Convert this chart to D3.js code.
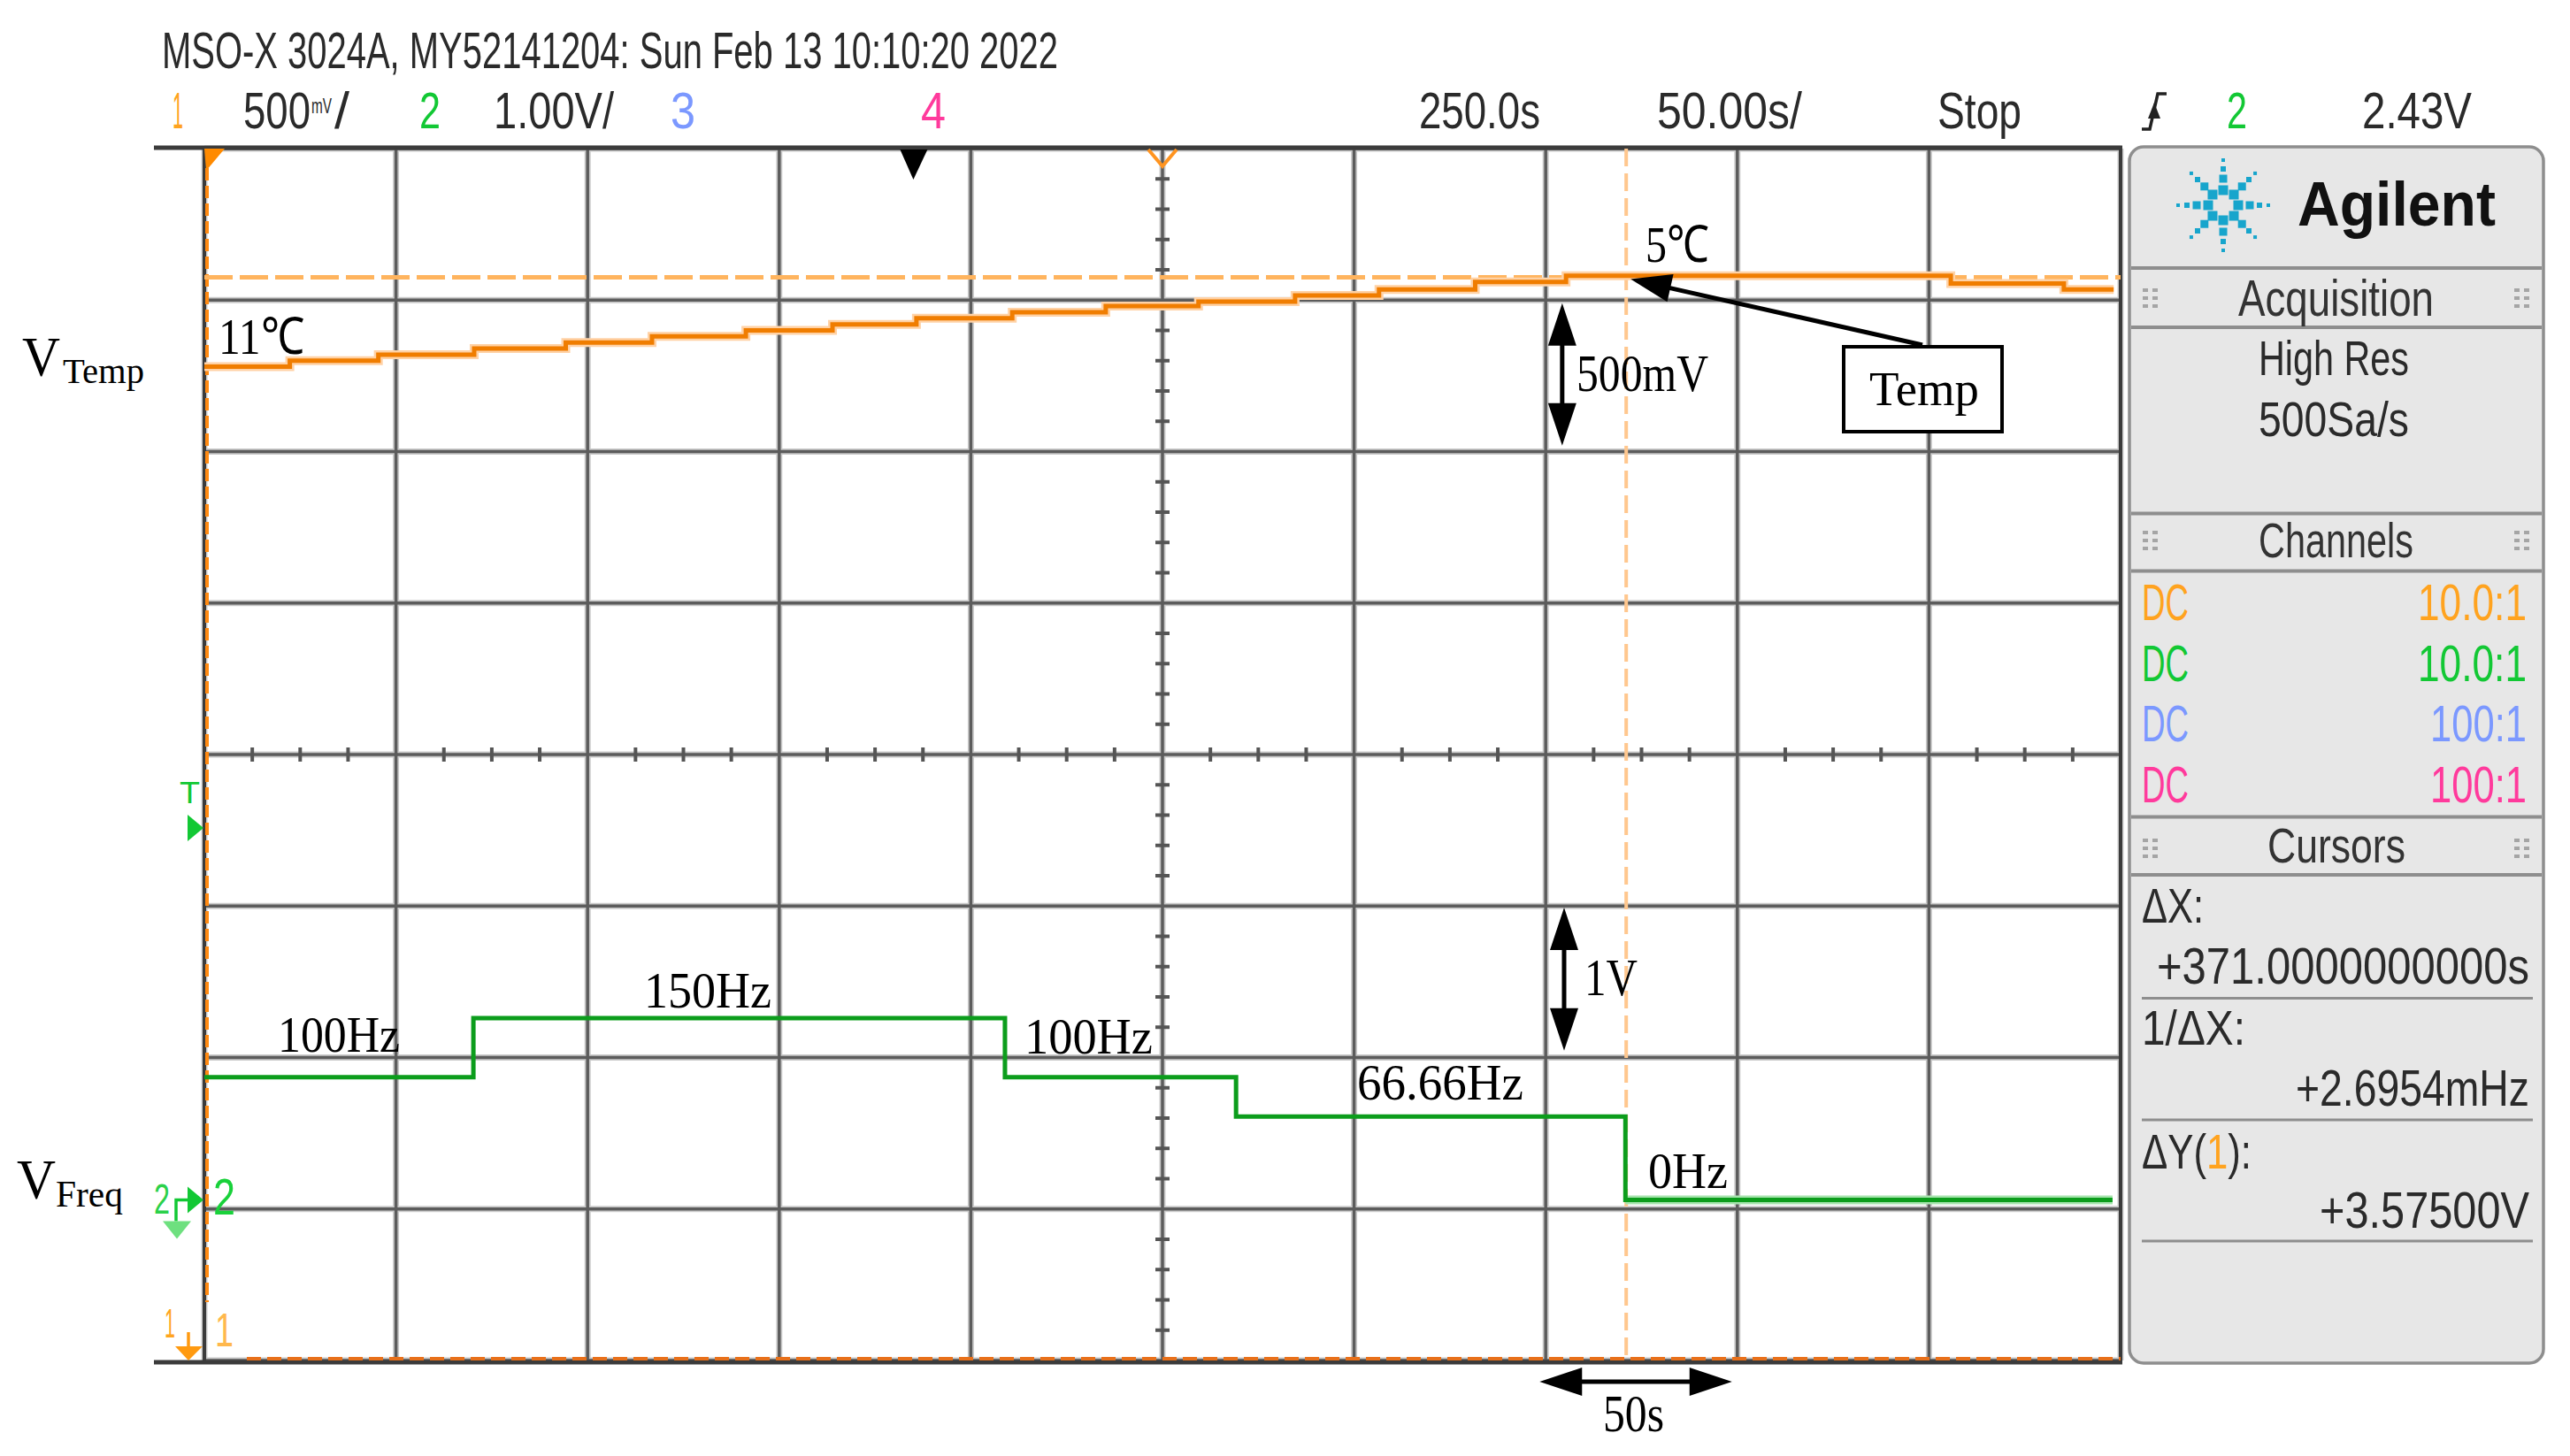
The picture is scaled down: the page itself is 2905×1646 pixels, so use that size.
<!DOCTYPE html>
<html>
<head>
<meta charset="utf-8">
<script src="https://cdn.jsdelivr.net/npm/d3@7"></script>
<style>
body{margin:0;background:#fff;}
</style>
</head>
<body>
<script>
// values read off the screen capture
// channel 1 - temperature sensor voltage (staircase), time in s, volts
var tempTime = [0, 22.3, 45.4, 70.4, 94.3, 116.8, 141.3, 163.9, 185.8, 210.8, 235.2, 259.4, 284.6, 306.5, 331.6, 355.3, 455.7, 485.2, 498.2];
var tempVolt = [3.28, 3.30, 3.32, 3.34, 3.36, 3.38, 3.40, 3.42, 3.44, 3.46, 3.48, 3.495, 3.515, 3.535, 3.56, 3.58, 3.555, 3.535, 3.535];
// channel 2 - frequency/voltage output
var freqTime = [0, 70.2, 208.9, 269.2, 370.8, 497.9];
var freqVolt = [0.81, 1.20, 0.81, 0.55, 0, 0];
var freqNames = ["100Hz", "150Hz", "100Hz", "66.66Hz", "0Hz"];
var tempNames = ["11℃", "5℃"];
// cursors: X in s, Y in volts of channel 1
var cursorX = [0, 371];
var cursorY = [0, 3.575];

var headerLine = "MSO-X 3024A, MY52141204: Sun Feb 13 10:10:20 2022";
var channelTexts = ["1", "500", "2", "1.00V/", "3", "4"];
var timeTexts = ["250.0s", "50.00s/", "Stop", "2", "2.43V"];
var probeRows = [["DC", "10.0:1"], ["DC", "10.0:1"], ["DC", "100:1"], ["DC", "100:1"]];
var chColours = ["#ffa31f", "#12c834", "#7b98ff", "#ff3a9c"];

var W = 2905, H = 1646;
var SANS = "Liberation Sans, Arial, sans-serif";
var SERIF = "Liberation Serif, Times New Roman, serif";

var svg = d3.select("body").append("svg")
    .attr("width", W).attr("height", H)
    .attr("viewBox", "0,0," + W + "," + H);
svg.append("rect").attr("width", W).attr("height", H).attr("fill", "#fff");

// screen geometry: 10 x 8 divisions
var scrL = 231, scrR = 2397, scrT = 168, scrB = 1538;
var x = d3.scaleLinear().domain([0, 500]).range([scrL, scrR]);   // 50 s/div
var div = d3.scaleLinear().domain([-4, 4]).range([scrB, scrT]);
var yTemp = d3.scaleLinear().domain([0, 4]).range([scrB, scrT]);        // 500 mV/div, ground at bottom
var ch2Pos = -2.94;
var yFreq = d3.scaleLinear().domain([-4 - ch2Pos, 4 - ch2Pos]).range([scrB, scrT]); // 1 V/div

function txt(g, s, x0, x1, base, size, fill, fam, weight){
    return g.append("text")
        .attr("x", x0).attr("y", base)
        .attr("font-size", size)
        .attr("font-family", fam || SANS)
        .attr("font-weight", weight || "normal")
        .attr("fill", fill || "#2a2a2a")
        .attr("textLength", x1 - x0)
        .attr("lengthAdjust", "spacingAndGlyphs")
        .text(s);
}

// HEADER
var head = svg.append("g");
txt(head, headerLine, 183, 1196, 77, 58);
txt(head, channelTexts[0], 195, 207, 145, 58, chColours[0]);
txt(head, channelTexts[1], 275, 351, 145, 58);
txt(head, "mV", 352, 375, 128, 24);
txt(head, "/", 378, 395, 145, 58);
txt(head, channelTexts[2], 474, 498, 145, 58, chColours[1]);
txt(head, channelTexts[3], 558, 694, 145, 58);
txt(head, channelTexts[4], 758, 786, 145, 58, chColours[2]);
txt(head, channelTexts[5], 1041, 1069, 145, 58, chColours[3]);
txt(head, timeTexts[0], 1604, 1741, 145, 58);
txt(head, timeTexts[1], 1873, 2037, 145, 58);
txt(head, timeTexts[2], 2190, 2285, 145, 58);
txt(head, timeTexts[3], 2517, 2540, 145, 58, chColours[1]);
txt(head, timeTexts[4], 2670, 2794, 145, 58);
// rising edge trigger glyph
head.append("path")
    .attr("d", "M2421,146 L2430,146 L2439,106 L2449,106")
    .attr("fill", "none").attr("stroke", "#222").attr("stroke-width", 3.5);
head.append("path").attr("d", "M2428,134 L2442,134 L2435,116 Z").attr("fill", "#222");

// GRID
var grid = svg.append("g");
var vLines = d3.range(0, 501, 50);
var hLines = d3.range(-4, 5, 1);
grid.selectAll("line.v").data(vLines).enter().append("line")
    .attr("x1", d => x(d)).attr("x2", d => x(d))
    .attr("y1", scrT).attr("y2", scrB)
    .attr("stroke", "#c9c9c9").attr("stroke-width", 7);
grid.selectAll("line.h").data(hLines).enter().append("line")
    .attr("x1", scrL).attr("x2", scrR)
    .attr("y1", d => div(d)).attr("y2", d => div(d))
    .attr("stroke", "#c9c9c9").attr("stroke-width", 7);
grid.selectAll("line.v2").data(vLines).enter().append("line")
    .attr("x1", d => x(d)).attr("x2", d => x(d))
    .attr("y1", scrT).attr("y2", scrB)
    .attr("stroke", "#5c5c5c").attr("stroke-width", 3.5);
grid.selectAll("line.h2").data(hLines).enter().append("line")
    .attr("x1", scrL).attr("x2", scrR)
    .attr("y1", d => div(d)).attr("y2", d => div(d))
    .attr("stroke", "#5c5c5c").attr("stroke-width", 3.5);

// minor ticks on the centre axes
var xMinor = d3.range(0, 500.01, 12.5).filter(d => d % 50 != 0);
var yMinor = d3.range(-4, 4.001, 0.2).filter(d => Math.abs(d - Math.round(d)) > 0.01);
grid.selectAll("line.tx").data(xMinor).enter().append("line")
    .attr("x1", d => x(d)).attr("x2", d => x(d))
    .attr("y1", div(0) - 8).attr("y2", div(0) + 8)
    .attr("stroke", "#555").attr("stroke-width", 4);
grid.selectAll("line.ty").data(yMinor).enter().append("line")
    .attr("x1", x(250) - 8).attr("x2", x(250) + 8)
    .attr("y1", d => div(d)).attr("y2", d => div(d))
    .attr("stroke", "#555").attr("stroke-width", 4);

// frame
grid.append("line").attr("x1", 174).attr("x2", scrR + 2).attr("y1", scrT - 1).attr("y2", scrT - 1)
    .attr("stroke", "#3b3b3b").attr("stroke-width", 5);
grid.append("line").attr("x1", 174).attr("x2", scrR + 2).attr("y1", scrB + 2).attr("y2", scrB + 2)
    .attr("stroke", "#3b3b3b").attr("stroke-width", 5);
grid.append("line").attr("x1", scrL).attr("x2", scrL).attr("y1", scrT).attr("y2", scrB)
    .attr("stroke", "#3b3b3b").attr("stroke-width", 4);
grid.append("line").attr("x1", scrR).attr("x2", scrR).attr("y1", scrT).attr("y2", scrB)
    .attr("stroke", "#3b3b3b").attr("stroke-width", 4);

// CURSORS
var cur = svg.append("g");
cur.append("line").attr("x1", x(cursorX[0]) + 3).attr("x2", x(cursorX[0]) + 3)
    .attr("y1", scrT + 22).attr("y2", scrB - 66)
    .attr("stroke", "#ff8a12").attr("stroke-width", 4).attr("stroke-dasharray", "14 6");
cur.append("line").attr("x1", x(cursorX[1])).attr("x2", x(cursorX[1]))
    .attr("y1", scrT).attr("y2", scrB)
    .attr("stroke", "#ffc78e").attr("stroke-width", 4).attr("stroke-dasharray", "20 8");
cur.append("line").attr("x1", scrL).attr("x2", scrR)
    .attr("y1", yTemp(cursorY[1])).attr("y2", yTemp(cursorY[1]))
    .attr("stroke", "#ffb45e").attr("stroke-width", 5).attr("stroke-dasharray", "32 8");
cur.append("line").attr("x1", 279).attr("x2", scrR)
    .attr("y1", yTemp(cursorY[0]) - 2).attr("y2", yTemp(cursorY[0]) - 2)
    .attr("stroke", "#e8701a").attr("stroke-width", 4).attr("stroke-dasharray", "16 7");

// TRACES
var tempPts = tempTime.map((t, i) => [t, tempVolt[i]]);
var freqPts = freqTime.map((t, i) => [t, freqVolt[i]]);
var tempLine = d3.line().x(d => x(d[0])).y(d => yTemp(d[1])).curve(d3.curveStepAfter);
var freqLine = d3.line().x(d => x(d[0])).y(d => yFreq(d[1])).curve(d3.curveStepAfter);

var tr = svg.append("g");
tr.append("path").attr("d", tempLine(tempPts)).attr("fill", "none")
    .attr("stroke", "#ffd2a6").attr("stroke-width", 10);
tr.append("path").attr("d", tempLine(tempPts)).attr("fill", "none")
    .attr("stroke", "#f07d00").attr("stroke-width", 5);
tr.append("path").attr("d", freqLine(freqPts.slice(-2))).attr("fill", "none")
    .attr("stroke", "#a6e3ad").attr("stroke-width", 10);
tr.append("path").attr("d", freqLine(freqPts)).attr("fill", "none")
    .attr("stroke", "#0c9d1c").attr("stroke-width", 5);

// screen markers
var mk = svg.append("g");
mk.append("path").attr("d", "M" + scrL + "," + scrT + " L" + (scrL + 23) + "," + scrT + " L" + (scrL + 2) + "," + (scrT + 25) + " Z")
    .attr("fill", "#ff8a00");
mk.append("path").attr("d", "M" + (x(185) - 15) + "," + (scrT + 1) + " L" + (x(185) + 16) + "," + (scrT + 1) + " L" + x(185) + "," + (scrT + 35) + " Z")
    .attr("fill", "#000");
mk.append("path").attr("d", "M" + (x(250) - 16) + "," + (scrT + 1) + " L" + x(250) + "," + (scrT + 20) + " L" + (x(250) + 16) + "," + (scrT + 1))
    .attr("fill", "none").attr("stroke", "#ff9420").attr("stroke-width", 4);
// trigger level
txt(mk, "T", 203, 226, 908, 35, chColours[1]);
mk.append("path").attr("d", "M212,921 L230,936 L212,951 Z").attr("fill", chColours[1]);
// channel 2 ground
var g2 = yFreq(0);
txt(mk, "2", 174, 192, g2 + 16, 48, "#2bd14a");
mk.append("path").attr("d", "M199," + (g2 + 24) + " L199," + g2 + " L214," + g2)
    .attr("fill", "none").attr("stroke", chColours[1]).attr("stroke-width", 3.5);
mk.append("path").attr("d", "M212," + (g2 - 15) + " L230," + g2 + " L212," + (g2 + 15) + " Z").attr("fill", chColours[1]);
mk.append("path").attr("d", "M184," + (g2 + 24) + " L216," + (g2 + 24) + " L200," + (g2 + 44) + " Z").attr("fill", "#6ee07f");
txt(mk, "2", 241, 266, g2 + 17, 57, "#19d13a");
// channel 1 ground (below screen)
txt(mk, "1", 186, 198, 1512, 46, "#ffa51f");
mk.append("line").attr("x1", 213).attr("x2", 213).attr("y1", 1506).attr("y2", 1524)
    .attr("stroke", "#ff9a10").attr("stroke-width", 3.5);
mk.append("path").attr("d", "M198,1522 L229,1522 L213,1538 Z").attr("fill", "#ff9a10");
txt(mk, "1", 243, 264, 1522, 53, "#ffb84d");

// ANNOTATIONS
var an = svg.append("g");
function arrowHead(g, tip, dir, len, wid){
    var ux = dir[0], uy = dir[1];
    var bx = tip[0] - ux * len, by = tip[1] - uy * len;
    var px = -uy * wid / 2, py = ux * wid / 2;
    g.append("path")
        .attr("d", "M" + tip[0] + "," + tip[1] + " L" + (bx + px) + "," + (by + py) + " L" + (bx - px) + "," + (by - py) + " Z")
        .attr("fill", "#000");
}
function dblArrow(g, a, b){
    var dx = b[0] - a[0], dy = b[1] - a[1], L = Math.hypot(dx, dy);
    var u = [dx / L, dy / L];
    g.append("line").attr("x1", a[0] + u[0] * 40).attr("y1", a[1] + u[1] * 40)
        .attr("x2", b[0] - u[0] * 40).attr("y2", b[1] - u[1] * 40)
        .attr("stroke", "#000").attr("stroke-width", 5);
    arrowHead(g, b, u, 48, 32);
    arrowHead(g, a, [-u[0], -u[1]], 48, 32);
}
dblArrow(an, [x(354.3), yTemp(3.49)], [x(354.3), yTemp(3.02)]);
txt(an, "500mV", 1782, 1931, 442, 60, "#000", SERIF);
dblArrow(an, [x(354.8), yFreq(1.93)], [x(354.8), yFreq(0.985)]);
txt(an, "1V", 1791, 1851, 1125, 60, "#000", SERIF);
dblArrow(an, [x(348.4), 1562], [x(398.6), 1562]);
txt(an, "50s", 1812, 1881, 1618, 60, "#000", SERIF);

// Temp callout
an.append("rect").attr("x", 2084).attr("y", 392).attr("width", 179).attr("height", 96)
    .attr("fill", "#fff").attr("stroke", "#000").attr("stroke-width", 4);
txt(an, "Temp", 2113, 2237, 458, 54, "#000", SERIF);
var tip = [x(cursorX[1]) + 5, yTemp(3.578) + 3], tail = [2173, 390];
var adx = tip[0] - tail[0], ady = tip[1] - tail[1], aL = Math.hypot(adx, ady);
an.append("line").attr("x1", tail[0]).attr("y1", tail[1])
    .attr("x2", tip[0] - adx / aL * 40).attr("y2", tip[1] - ady / aL * 40)
    .attr("stroke", "#000").attr("stroke-width", 5);
arrowHead(an, tip, [adx / aL, ady / aL], 46, 32);

// channel names
txt(an, "V", 25, 68, 425, 63, "#000", SERIF);
txt(an, "Temp", 71, 163, 433, 39, "#000", SERIF);
txt(an, "V", 19, 63, 1355, 63, "#000", SERIF);
txt(an, "Freq", 63, 139, 1364, 42, "#000", SERIF);

// temperature & frequency labels
txt(an, tempNames[0], 247, 344, yTemp(tempVolt[0]) - 15, 58, "#000", SERIF);
txt(an, tempNames[1], 1860, 1932, yTemp(tempVolt[15]) - 16, 58, "#000", SERIF);
var fl = [[314, 452, 1189], [728, 872, 1139], [1158, 1303, 1191], [1534, 1722, 1243], [1863, 1953, 1343]];
fl.forEach(function(p, i){ txt(an, freqNames[i], p[0], p[1], p[2], 56, "#000", SERIF); });

// SIDE PANEL
var pn = svg.append("g");
pn.append("rect").attr("x", 2407).attr("y", 166).attr("width", 468).attr("height", 1375)
    .attr("rx", 16).attr("fill", "#e7e7e7").attr("stroke", "#8e8e8e").attr("stroke-width", 3.5);
[303, 370, 580.5, 645.5, 923.5, 989].forEach(function(yy){
    pn.append("line").attr("x1", 2409).attr("x2", 2873).attr("y1", yy).attr("y2", yy)
        .attr("stroke", "#8e8e8e").attr("stroke-width", 4);
});
[1128.5, 1266, 1403].forEach(function(yy){
    pn.append("line").attr("x1", 2421).attr("x2", 2863).attr("y1", yy).attr("y2", yy)
        .attr("stroke", "#8e8e8e").attr("stroke-width", 3);
});
// grip dots
[337, 611, 959].forEach(function(cy){
    [2422, 2842].forEach(function(gx){
        [0, 11].forEach(function(ox){
            [-9, 0, 9].forEach(function(oy){
                pn.append("rect").attr("x", gx + ox).attr("y", cy + oy - 2)
                    .attr("width", 6).attr("height", 4).attr("fill", "#a5a5a5");
            });
        });
    });
});
// logo
var star = pn.append("g").attr("transform", "translate(2513,232)");
d3.range(8).forEach(function(k){
    var a = k * Math.PI / 4;
    [[17, 11], [30, 9], [41, 6], [51, 4]].forEach(function(r){
        star.append("rect")
            .attr("x", Math.cos(a) * r[0] - r[1] / 2).attr("y", Math.sin(a) * r[0] - r[1] / 2)
            .attr("width", r[1]).attr("height", r[1]).attr("fill", "#17a5cc");
    });
});
txt(pn, "Agilent", 2597, 2821, 255, 70, "#111", SANS, "bold");
txt(pn, "Acquisition", 2530, 2751, 357, 58, "#333");
txt(pn, "High Res", 2553, 2723, 424, 56);
txt(pn, "500Sa/s", 2553, 2723, 493, 56);
txt(pn, "Channels", 2553, 2728, 630, 56, "#333");
probeRows.forEach(function(r, i){
    var base = 701 + i * 68.5;
    txt(pn, r[0], 2421, 2474, base, 58, chColours[i]);
    txt(pn, r[1], i < 2 ? 2733 : 2747, 2856, base, 58, chColours[i]);
});
txt(pn, "Cursors", 2563, 2719, 974.5, 56, "#333");
var dX = cursorX[1] - cursorX[0], dY = cursorY[1] - cursorY[0];
txt(pn, "ΔX:", 2421, 2491, 1043, 56);
txt(pn, "+" + dX.toFixed(10) + "s", 2438, 2859, 1112, 58);
txt(pn, "1/ΔX:", 2421, 2538, 1181, 56);
txt(pn, "+" + (1000 / dX).toFixed(4) + "mHz", 2595, 2859, 1250, 58);
var dy1 = pn.append("text").attr("x", 2421).attr("y", 1321).attr("font-size", 56)
    .attr("font-family", SANS).attr("fill", "#2a2a2a")
    .attr("textLength", 124).attr("lengthAdjust", "spacingAndGlyphs");
dy1.append("tspan").text("ΔY(");
dy1.append("tspan").attr("fill", chColours[0]).text("1");
dy1.append("tspan").text("):");
txt(pn, "+" + dY.toFixed(5) + "V", 2622, 2859, 1388, 58);
</script>
</body>
</html>
